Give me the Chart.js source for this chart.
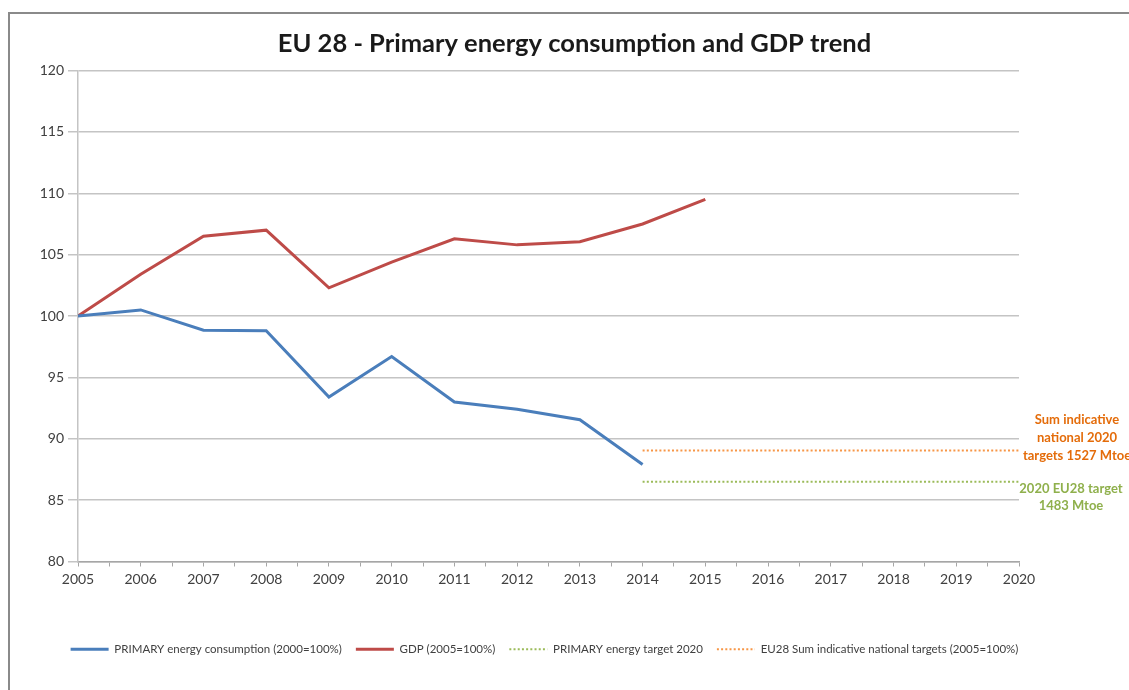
<!DOCTYPE html>
<html>
<head>
<meta charset="utf-8">
<script src="https://cdn.jsdelivr.net/npm/chart.js@4/dist/chart.umd.min.js"></script>
<style>
  body { margin: 0; background: #fff; }
  #wrap { position: relative; width: 1129px; height: 690px; }
  #frame { position: absolute; left: 8px; top: 12px; right: 0; bottom: 0;
           border-left: 2px solid #8a8a8a; border-top: 2px solid #8a8a8a; }
  canvas { position: absolute; left: 0; top: 0; }
</style>
</head>
<body>
<div id="wrap">
  <div id="frame"></div>
  <canvas id="grafico" width="1129" height="690"></canvas>
</div>
<script>
// datos (indice 2005 = 100)
const anios = [2005, 2006, 2007, 2008, 2009, 2010, 2011, 2012, 2013, 2014, 2015];
const energiaPrimaria = [100, 100.5, 98.85, 98.8, 93.4, 96.7, 93.0, 92.4, 91.55, 87.9];
const pib = [100, 103.4, 106.5, 107.0, 102.3, 104.4, 106.3, 105.8, 106.05, 107.5, 109.5];

// lineas de objetivo 2014 -> 2020
const aniosObjetivo = [2014, 2020];
const objetivoEU28 = [86.5, 86.5];
const objetivosNacionales = [89.05, 89.05];

const nombres = [
  "PRIMARY energy consumption (2000=100%)",
  "GDP (2005=100%)",
  "PRIMARY energy target 2020",
  "EU28 Sum indicative national targets (2005=100%)"
];
const textoNacional = ["Sum indicative", "national 2020", "targets 1527 Mtoe"];
const textoEU28 = ["2020 EU28 target", "1483 Mtoe"];

const fuente = "Lato, 'Open Sans', sans-serif";

const puntos = (xs, ys) => ys.map((v, i) => ({ x: xs[i], y: v }));

// el titulo del original esta un poco corrido a la derecha
const correrTitulo = {
  id: 'correrTitulo',
  afterLayout(chart) {
    if (chart.titleBlock) {
      chart.titleBlock.left += 30;
      chart.titleBlock.right += 30;
    }
  }
};

// textos de la derecha junto a las lineas punteadas
const notas = {
  id: 'notas',
  afterDraw(chart) {
    const ctx = chart.ctx;
    const y = chart.scales.y;
    const cx = chart.chartArea.right + 58;
    ctx.save();
    ctx.font = "bold 13px " + fuente;
    ctx.textAlign = 'center';
    ctx.textBaseline = 'middle';
    ctx.fillStyle = '#e46c0a';
    let y0 = y.getPixelForValue(objetivosNacionales[0]) + 5;
    textoNacional.forEach((t, i) => ctx.fillText(t, cx, y0 - (2 - i) * 18));
    ctx.fillStyle = '#8fb04c';
    y0 = y.getPixelForValue(objetivoEU28[0]) + 7;
    textoEU28.forEach((t, i) => ctx.fillText(t, cx - 6, y0 + i * 17));
    ctx.restore();
  }
};

const ctx = document.getElementById('grafico');
new Chart(ctx, {
  type: 'line',
  data: {
    datasets: [
      { label: nombres[0], data: puntos(anios, energiaPrimaria), borderColor: '#4a7ebb',
        backgroundColor: '#4a7ebb', borderWidth: 3, pointRadius: 0, tension: 0 },
      { label: nombres[1], data: puntos(anios, pib), borderColor: '#be4b48',
        backgroundColor: '#be4b48', borderWidth: 3, pointRadius: 0, tension: 0 },
      { label: nombres[2], data: puntos(aniosObjetivo, objetivoEU28), borderColor: '#9bbb59',
        backgroundColor: '#9bbb59', borderWidth: 2, borderDash: [2, 2.2], pointRadius: 0 },
      { label: nombres[3], data: puntos(aniosObjetivo, objetivosNacionales), borderColor: '#f79646',
        backgroundColor: '#f79646', borderWidth: 2, borderDash: [2, 2.2], pointRadius: 0 }
    ]
  },
  options: {
    responsive: false,
    animation: false,
    layout: { padding: { left: 10, right: 50, top: 0, bottom: 25 } },
    plugins: {
      title: {
        display: true,
        text: 'EU 28 - Primary energy consumption and GDP trend',
        color: '#1a1a1a',
        font: { family: fuente, size: 25.5, weight: 'bold' },
        padding: { top: 28, bottom: 12 }
      },
      legend: {
        position: 'bottom',
        labels: {
          usePointStyle: true,
          pointStyle: 'line',
          pointStyleWidth: 38,
          color: '#404040',
          font: { family: fuente, size: 11.5 },
          padding: 14,
          generateLabels(chart) {
            const items = Chart.defaults.plugins.legend.labels.generateLabels(chart);
            items.forEach((it) => {
              const ds = chart.data.datasets[it.datasetIndex];
              it.lineDash = ds.borderDash || [];
              it.lineWidth = ds.borderWidth;
            });
            return items;
          }
        }
      },
      tooltip: { enabled: false }
    },
    scales: {
      x: {
        type: 'linear',
        min: 2005,
        max: 2020,
        ticks: {
          stepSize: 0.5,
          autoSkip: false,
          maxRotation: 0,
          color: '#404040',
          font: { family: fuente, size: 14 },
          padding: 5,
          callback: (v) => Number.isInteger(v) ? String(v) : ''
        },
        grid: { drawOnChartArea: false, color: '#a6a6a6', tickLength: 5 },
        border: { color: '#a6a6a6', width: 1.5 },
        afterFit: (s) => { s.height = 68; }
      },
      y: {
        min: 80,
        max: 120,
        ticks: { stepSize: 5, color: '#404040', font: { family: fuente, size: 14 }, padding: 4 },
        grid: { color: '#c4c4c4', lineWidth: 1.5, tickLength: 10 },
        border: { color: '#c4c4c4', width: 1.5 },
        afterFit: (s) => { s.width = 68; }
      },
      derecha: {
        position: 'right',
        display: true,
        min: 80,
        max: 120,
        ticks: { display: false },
        grid: { display: false },
        border: { display: false },
        afterFit: (s) => { s.width = 60; }
      }
    }
  },
  plugins: [correrTitulo, notas]
});
</script>
</body>
</html>
